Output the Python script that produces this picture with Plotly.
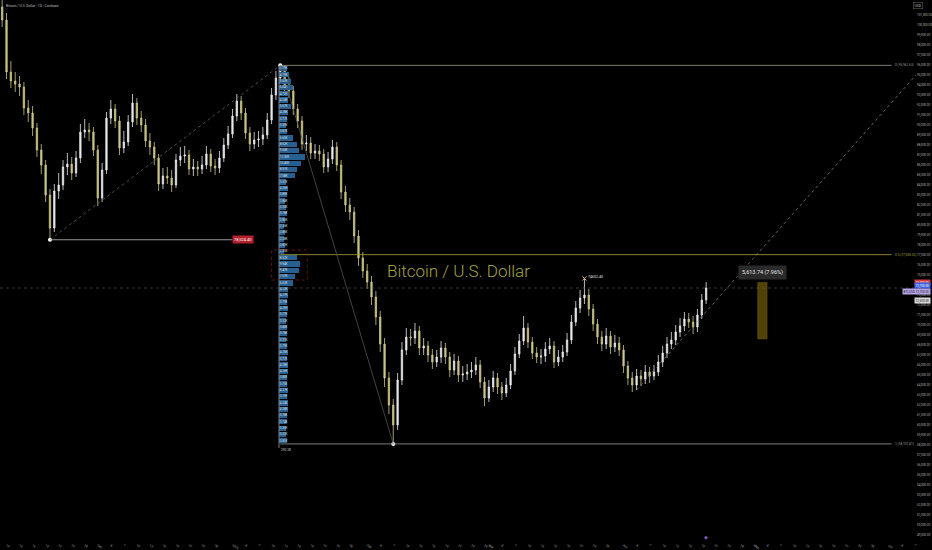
import pandas as pd
import plotly.graph_objects as go

# ---------------- data ----------------
watermark = "Bitcoin / U.S. Dollar"
symbol_line = "Bitcoin / U.S. Dollar · 1D · Coinbase"
start_date = "2024-11-09"
first_open = 101800

closes = [100500, 95300, 94400, 94100, 93800, 91700, 91200, 89700, 87500, 86000,
          83000, 79700, 83400, 84000, 85800, 86100, 85200, 86700, 89300, 89500,
          89300, 87500, 82700, 85500, 90700, 91600, 90400, 87700, 88300, 90300,
          92200, 90700, 90000, 88400, 87800, 86700, 84100, 84900, 84700, 84000,
          86500, 86900, 87000, 85600, 85800, 85600, 86000, 87100, 85900, 85700,
          86700, 88000, 89100, 90900, 92400, 91200, 89200, 88100, 88500, 88600,
          89000, 90500, 93000, 94700, 95900, 94000, 93400, 91600, 90400, 88100,
          88200, 87200, 87400, 87100, 85800, 86600, 87800, 86000, 83300, 82000,
          81300, 78900, 76700, 75400, 74300, 72800, 70800, 68100, 64700, 62000,
          60000, 64500, 67500, 68800, 68700, 69400, 67700, 67900, 67000, 66300,
          66800, 67700, 66800, 65500, 66400, 65000, 65100, 65300, 65500, 66000,
          64300, 62700, 63800, 64700, 63800, 63200, 64000, 65400, 67100, 68400,
          69700, 68300, 67200, 66800, 66900, 67600, 67900, 66300, 66800, 67300,
          68500, 70300, 71700, 72700, 73000, 71600, 70100, 68800, 68100, 68900,
          67800, 68200, 67500, 65900, 64700, 64000, 64900, 64600, 65300, 64900,
          65300, 66300, 67200, 68100, 68500, 69300, 69900, 70600, 70300, 69800,
          71000, 72500, 73700]

highs = [102600, 101200, 96400, 95300, 94900, 94300, 92500, 91900, 90200, 88100,
         86500, 83600, 84100, 85200, 86500, 87200, 86800, 87400, 90100, 90600,
         90200, 89800, 88000, 86200, 91300, 92500, 92100, 90900, 89400, 91000,
         93100, 92700, 91400, 90600, 89200, 88300, 87100, 85700, 85800, 85500,
         87100, 87800, 87900, 87500, 86600, 86400, 86900, 87900, 87600, 86600,
         87400, 88700, 89900, 91600, 93100, 92900, 91700, 89800, 89300, 89400,
         89800, 91200, 93700, 95400, 95962.63, 95600, 94800, 93900, 92100, 90900,
         89000, 88800, 88100, 88000, 87600, 87300, 88500, 88300, 86500, 83900,
         82700, 81800, 79500, 77300, 76100, 74900, 73400, 71400, 68700, 65300,
         62600, 65200, 68300, 69700, 69600, 70200, 69900, 68700, 68400, 67600,
         67500, 68400, 68200, 67300, 67100, 66900, 65900, 66100, 66300, 66800,
         66500, 64800, 64500, 65400, 65200, 64300, 64700, 66100, 67800, 69100,
         70900, 70200, 68800, 67800, 67600, 68300, 68700, 68400, 67500, 68000,
         69200, 71000, 72400, 73500, 74652.40, 73600, 72100, 70600, 69400, 69700,
         69400, 69000, 68800, 68000, 66400, 65300, 65600, 65500, 66000, 65800,
         66000, 67000, 67900, 68800, 69300, 70000, 70700, 71300, 71200, 70900,
         71600, 73100, 74300]

lows = [99800, 94600, 93700, 93300, 92900, 91000, 90300, 88900, 86800, 85100,
        82300, 78524.40, 79300, 82600, 83500, 85000, 84500, 84800, 86200, 88700,
        88400, 86900, 81900, 82300, 85100, 90100, 89700, 87000, 87200, 87900,
        89800, 90000, 89300, 87800, 87000, 86000, 83400, 83600, 84100, 83300,
        83700, 85900, 86200, 85000, 84900, 84900, 85100, 85600, 85300, 85000,
        85200, 86300, 87600, 88700, 90400, 90500, 88600, 87400, 87600, 87800,
        88000, 88600, 90100, 92500, 94200, 93300, 92700, 91000, 89700, 87500,
        87400, 86600, 86600, 86400, 85200, 85300, 86100, 85400, 82600, 81300,
        80500, 78200, 75900, 74700, 73600, 72000, 70000, 67300, 63800, 61100,
        58107.41, 59500, 64000, 67000, 67900, 68100, 67000, 67000, 66300, 65600,
        65800, 66200, 66100, 64800, 65000, 64300, 64300, 64500, 64700, 65000,
        63700, 61900, 62300, 63300, 63100, 62500, 62800, 63600, 65000, 66700,
        68000, 67700, 66600, 66200, 66100, 66300, 67100, 65700, 65900, 66300,
        66900, 68100, 69900, 71200, 72100, 70900, 69400, 68100, 67400, 67600,
        67100, 67300, 66900, 65200, 64000, 63300, 63500, 63900, 64100, 64200,
        64500, 64900, 65800, 66700, 67600, 68000, 68800, 69400, 69700, 69100,
        69300, 70600, 72100]

# volume profile rows, top (fib 0) to bottom (fib 1), in thousands
profile_vol_k = [3.79, 4.75, 5.68, 6.64, 4.72, 4.24, 5.67, 4.28, 3.77, 3.30, 3.81,
                 6.65, 8.52, 9.50, 12.30, 10.40, 8.51, 7.58,
                 3.32, 4.26, 3.80, 2.84, 3.33, 3.78, 2.85, 2.36, 2.86, 2.38, 2.83, 2.35,
                 8.52, 9.94, 9.47, 7.57, 6.63,
                 4.25, 4.27, 3.79, 4.25, 3.77, 3.32, 3.80, 3.78, 3.31, 3.79, 4.26,
                 3.77, 4.28, 4.26, 3.80, 3.75, 4.27, 3.79, 4.24, 4.28, 3.78, 3.74,
                 3.30, 3.32, 3.81]

price_ticks = list(range(49000, 101001, 1000))

fib_levels = [0, 0.5, 1]
fib_colors = ["#9a9a8c", "#a9a53c", "#9a9a9a"]
measure_text = "5,613.74 (7.96%)"
measure_low = 68620.00
measure_size = 5613.74

# ---------------- derived ----------------
dates = pd.date_range(start_date, periods=len(closes), freq="D")
opens = [first_open] + closes[:-1]
day = pd.Timedelta(days=1)
x_start = dates[0] - pd.Timedelta(hours=12)
x_end = x_start + pd.Timedelta(days=210.8)
Y_MIN, Y_MAX = 48300, 102500
K_PER_PX = 0.473

i_hi, i_lo, i_l0, i_pk = 64, 90, 11, 134
fib_hi, fib_lo = highs[i_hi], lows[i_lo]

# x ticks in TradingView style
tickvals, ticktext = [], []
for m in pd.date_range("2024-11-01", x_end, freq="MS"):
    if x_start <= m <= x_end:
        tickvals.append(m)
        ticktext.append(str(m.year) if m.month == 1 else m.strftime("%b"))
    for d in [4, 7, 10, 13, 16, 19, 22, 25, 28]:
        t = m + pd.Timedelta(days=d - 1)
        if x_start <= t <= x_end:
            tickvals.append(t)
            ticktext.append(str(d))

fig = go.Figure()

# volume profile
n = len(profile_vol_k)
step = (fib_hi - fib_lo) / n
centers = [fib_hi - (k + 0.5) * step for k in range(n)]
fig.add_trace(go.Bar(x=profile_vol_k, y=centers, orientation="h", xaxis="x2", yaxis="y",
                     width=step * 0.84, marker=dict(color="#275f91", line=dict(width=0)),
                     hoverinfo="skip", showlegend=False))
fig.add_trace(go.Scatter(x=[0.35] * n, y=centers, mode="text", xaxis="x2", yaxis="y",
                         text=[f"{v:.2f}K" for v in profile_vol_k], textposition="middle right",
                         textfont=dict(size=3, color="#dfe6ee"), hoverinfo="skip", showlegend=False))

# candles
fig.add_trace(go.Candlestick(
    x=dates, open=opens, high=highs, low=lows, close=closes,
    increasing=dict(line=dict(color="#e8e8e8", width=0.8), fillcolor="#e8e8e8"),
    decreasing=dict(line=dict(color="#cbc585", width=0.8), fillcolor="#cbc585"),
    whiskerwidth=0, showlegend=False, hoverinfo="skip"))

# anchor points
fig.add_trace(go.Scatter(x=[dates[i_l0], dates[i_hi], dates[i_lo]],
                         y=[lows[i_l0], highs[i_hi], lows[i_lo]], mode="markers",
                         marker=dict(size=4, color="#ffffff"), showlegend=False, hoverinfo="skip"))
fig.add_trace(go.Scatter(x=[dates[i_pk]], y=[highs[i_pk]], mode="markers",
                         marker=dict(size=4, color="#e6b3a8", symbol="x-thin",
                                     line=dict(width=1, color="#e6b3a8")),
                         showlegend=False, hoverinfo="skip"))

shapes = []
ann = []
line_end = x_end - pd.Timedelta(days=5.6)

# fib lines + labels
for lvl, col in zip(fib_levels, fib_colors):
    p = fib_hi - lvl * (fib_hi - fib_lo)
    shapes.append(dict(type="line", xref="x", yref="y", x0=dates[i_hi], x1=line_end, y0=p, y1=p,
                       line=dict(color=col, width=0.8)))
    ann.append(dict(x=line_end, y=p, xref="x", yref="y", xanchor="left", yanchor="middle",
                    text=f"{lvl:g} ({p:,.2f})", showarrow=False, xshift=1,
                    font=dict(size=3.2, color=col)))

# diagonal drawings
shapes.append(dict(type="line", xref="x", yref="y", x0=dates[i_l0], y0=lows[i_l0],
                   x1=dates[i_hi], y1=highs[i_hi], line=dict(color="#6b6b6b", width=0.7, dash="dot")))
shapes.append(dict(type="line", xref="x", yref="y", x0=dates[i_hi], y0=highs[i_hi],
                   x1=dates[i_lo], y1=lows[i_lo], line=dict(color="#5e5e5e", width=0.7)))
shapes.append(dict(type="line", xref="x", yref="y", x0=dates[146], y0=63500,
                   x1=x_end, y1=95000, line=dict(color="#8a8a8a", width=0.7, dash="dot")))

# horizontal from the left low + red price label
shapes.append(dict(type="line", xref="x", yref="y", x0=dates[i_l0], x1=dates[53],
                   y0=lows[i_l0], y1=lows[i_l0], line=dict(color="#bdbdbd", width=0.8)))
ann.append(dict(x=dates[53], y=lows[i_l0], xref="x", yref="y", xanchor="left", yanchor="middle",
                text=f"{lows[i_l0]:,.2f}", showarrow=False, bgcolor="#b3202c", borderpad=1,
                font=dict(size=4, color="#ffffff")))

# profile base line + total
shapes.append(dict(type="line", xref="x2", yref="y", x0=0, x1=0, y0=fib_lo - 400, y1=fib_hi,
                   line=dict(color="#9a9a9a", width=0.8)))
ann.append(dict(x=0.2, y=fib_lo, xref="x2", yref="y", xanchor="left", yanchor="top", yshift=-2,
                text=f"{sum(profile_vol_k):.1f}K", showarrow=False,
                font=dict(size=3.2, color="#cfcfcf")))

# red dashed zone
shapes.append(dict(type="rect", xref="x", yref="y", x0=dates[62], x1=dates[70] + 0.2 * day,
                   y0=74500, y1=77500, line=dict(color="#8e1b1b", width=0.7, dash="dot")))

# last price line
shapes.append(dict(type="line", xref="paper", yref="y", x0=0, x1=1, y0=closes[-1], y1=closes[-1],
                   line=dict(color="#4a4a4a", width=0.7, dash="dot")))

# measure tool
mx0 = dates[-1] + 11.9 * day
mx1 = dates[-1] + 14.0 * day
shapes.append(dict(type="rect", xref="x", yref="y", x0=mx0, x1=mx1, y0=measure_low,
                   y1=measure_low + measure_size, fillcolor="rgba(125,100,10,0.65)",
                   line=dict(color="#6d5a0c", width=0.7)))
ann.append(dict(x=mx0 + 1.0 * day, y=measure_low + measure_size, xref="x", yref="y",
                xanchor="center", yanchor="bottom", yshift=3, text=measure_text, showarrow=False,
                bgcolor="#2a2a2a", borderpad=3, font=dict(size=5.5, color="#e8e8e8")))

# peak label
ann.append(dict(x=dates[i_pk], y=highs[i_pk], xref="x", yref="y", xanchor="left", yanchor="bottom",
                xshift=2, yshift=-3, text=f"{highs[i_pk]:.2f}", showarrow=False,
                font=dict(size=3.6, color="#e0e0e0")))

# watermark + header
ann.append(dict(x=0.5, y=0.5, xref="paper", yref="paper", text=watermark, showarrow=False,
                font=dict(size=17, color="#a5a23d", family="Roboto", weight=300)))
ann.append(dict(x=0.004, y=0.997, xref="paper", yref="paper", xanchor="left", yanchor="top",
                text=symbol_line, showarrow=False, font=dict(size=3.4, color="#bdbdbd")))
ann.append(dict(x=1, y=1, xref="paper", yref="paper", xanchor="left", yanchor="top", xshift=-3,
                yshift=-2, text="USD", showarrow=False, bordercolor="#555555", borderwidth=0.6,
                borderpad=1, font=dict(size=3.4, color="#bdbdbd")))
ann.append(dict(x=0.771, y=0, xref="paper", yref="paper", xanchor="center", yanchor="bottom",
                text="◆", showarrow=False, font=dict(size=5, color="#7e5cb5")))

# right-scale price tags
tags = [(highs[-1], "#d13a3a", "#ffffff", 0, f"{highs[-1]:,.2f}"),
        (closes[-1], "#3f5fe0", "#ffffff", 3, f"{closes[-1]:,.2f}"),
        (closes[-1], "#b5a6e8", "#1a1a1a", -3, f"BTCUSD {closes[-1]:,.2f}"),
        (opens[-1], "#d8d8d8", "#111111", 0, f"{opens[-1]:,.2f}")]
for p, bg, fc, ys, txt in tags:
    ann.append(dict(x=1, y=p, xref="paper", yref="y", xanchor="right", yanchor="middle",
                    xshift=15, yshift=ys, text=txt, showarrow=False, bgcolor=bg, borderpad=0.6,
                    font=dict(size=3, color=fc)))

fig.update_layout(
    width=932, height=550, margin=dict(l=0, r=16, t=0, b=8),
    paper_bgcolor="#000000", plot_bgcolor="#000000",
    showlegend=False, shapes=shapes, annotations=ann, bargap=0, boxgap=0.55,
    font=dict(family="Roboto", color="#b0b0b0"),
    xaxis=dict(type="date", range=[x_start, x_end], rangeslider=dict(visible=False),
               showgrid=False, zeroline=False, showline=False, ticks="",
               tickvals=tickvals, ticktext=ticktext, tickfont=dict(size=3.2, color="#a8a8a8")),
    xaxis2=dict(overlaying="x", range=[-279 * K_PER_PX, (916 - 279) * K_PER_PX], visible=False),
    yaxis=dict(side="right", range=[Y_MIN, Y_MAX], tickvals=price_ticks,
               ticktext=[f"{v:,.2f}" for v in price_ticks],
               showgrid=False, zeroline=False, showline=False, ticks="",
               tickfont=dict(size=3, color="#b0b0b0")),
)

fig.write_html("out.html", config={"displayModeBar": False},
               post_script="document.body.style.margin='0px';"
                           "document.body.style.background='#000000';"
                           "document.documentElement.style.background='#000000';")
